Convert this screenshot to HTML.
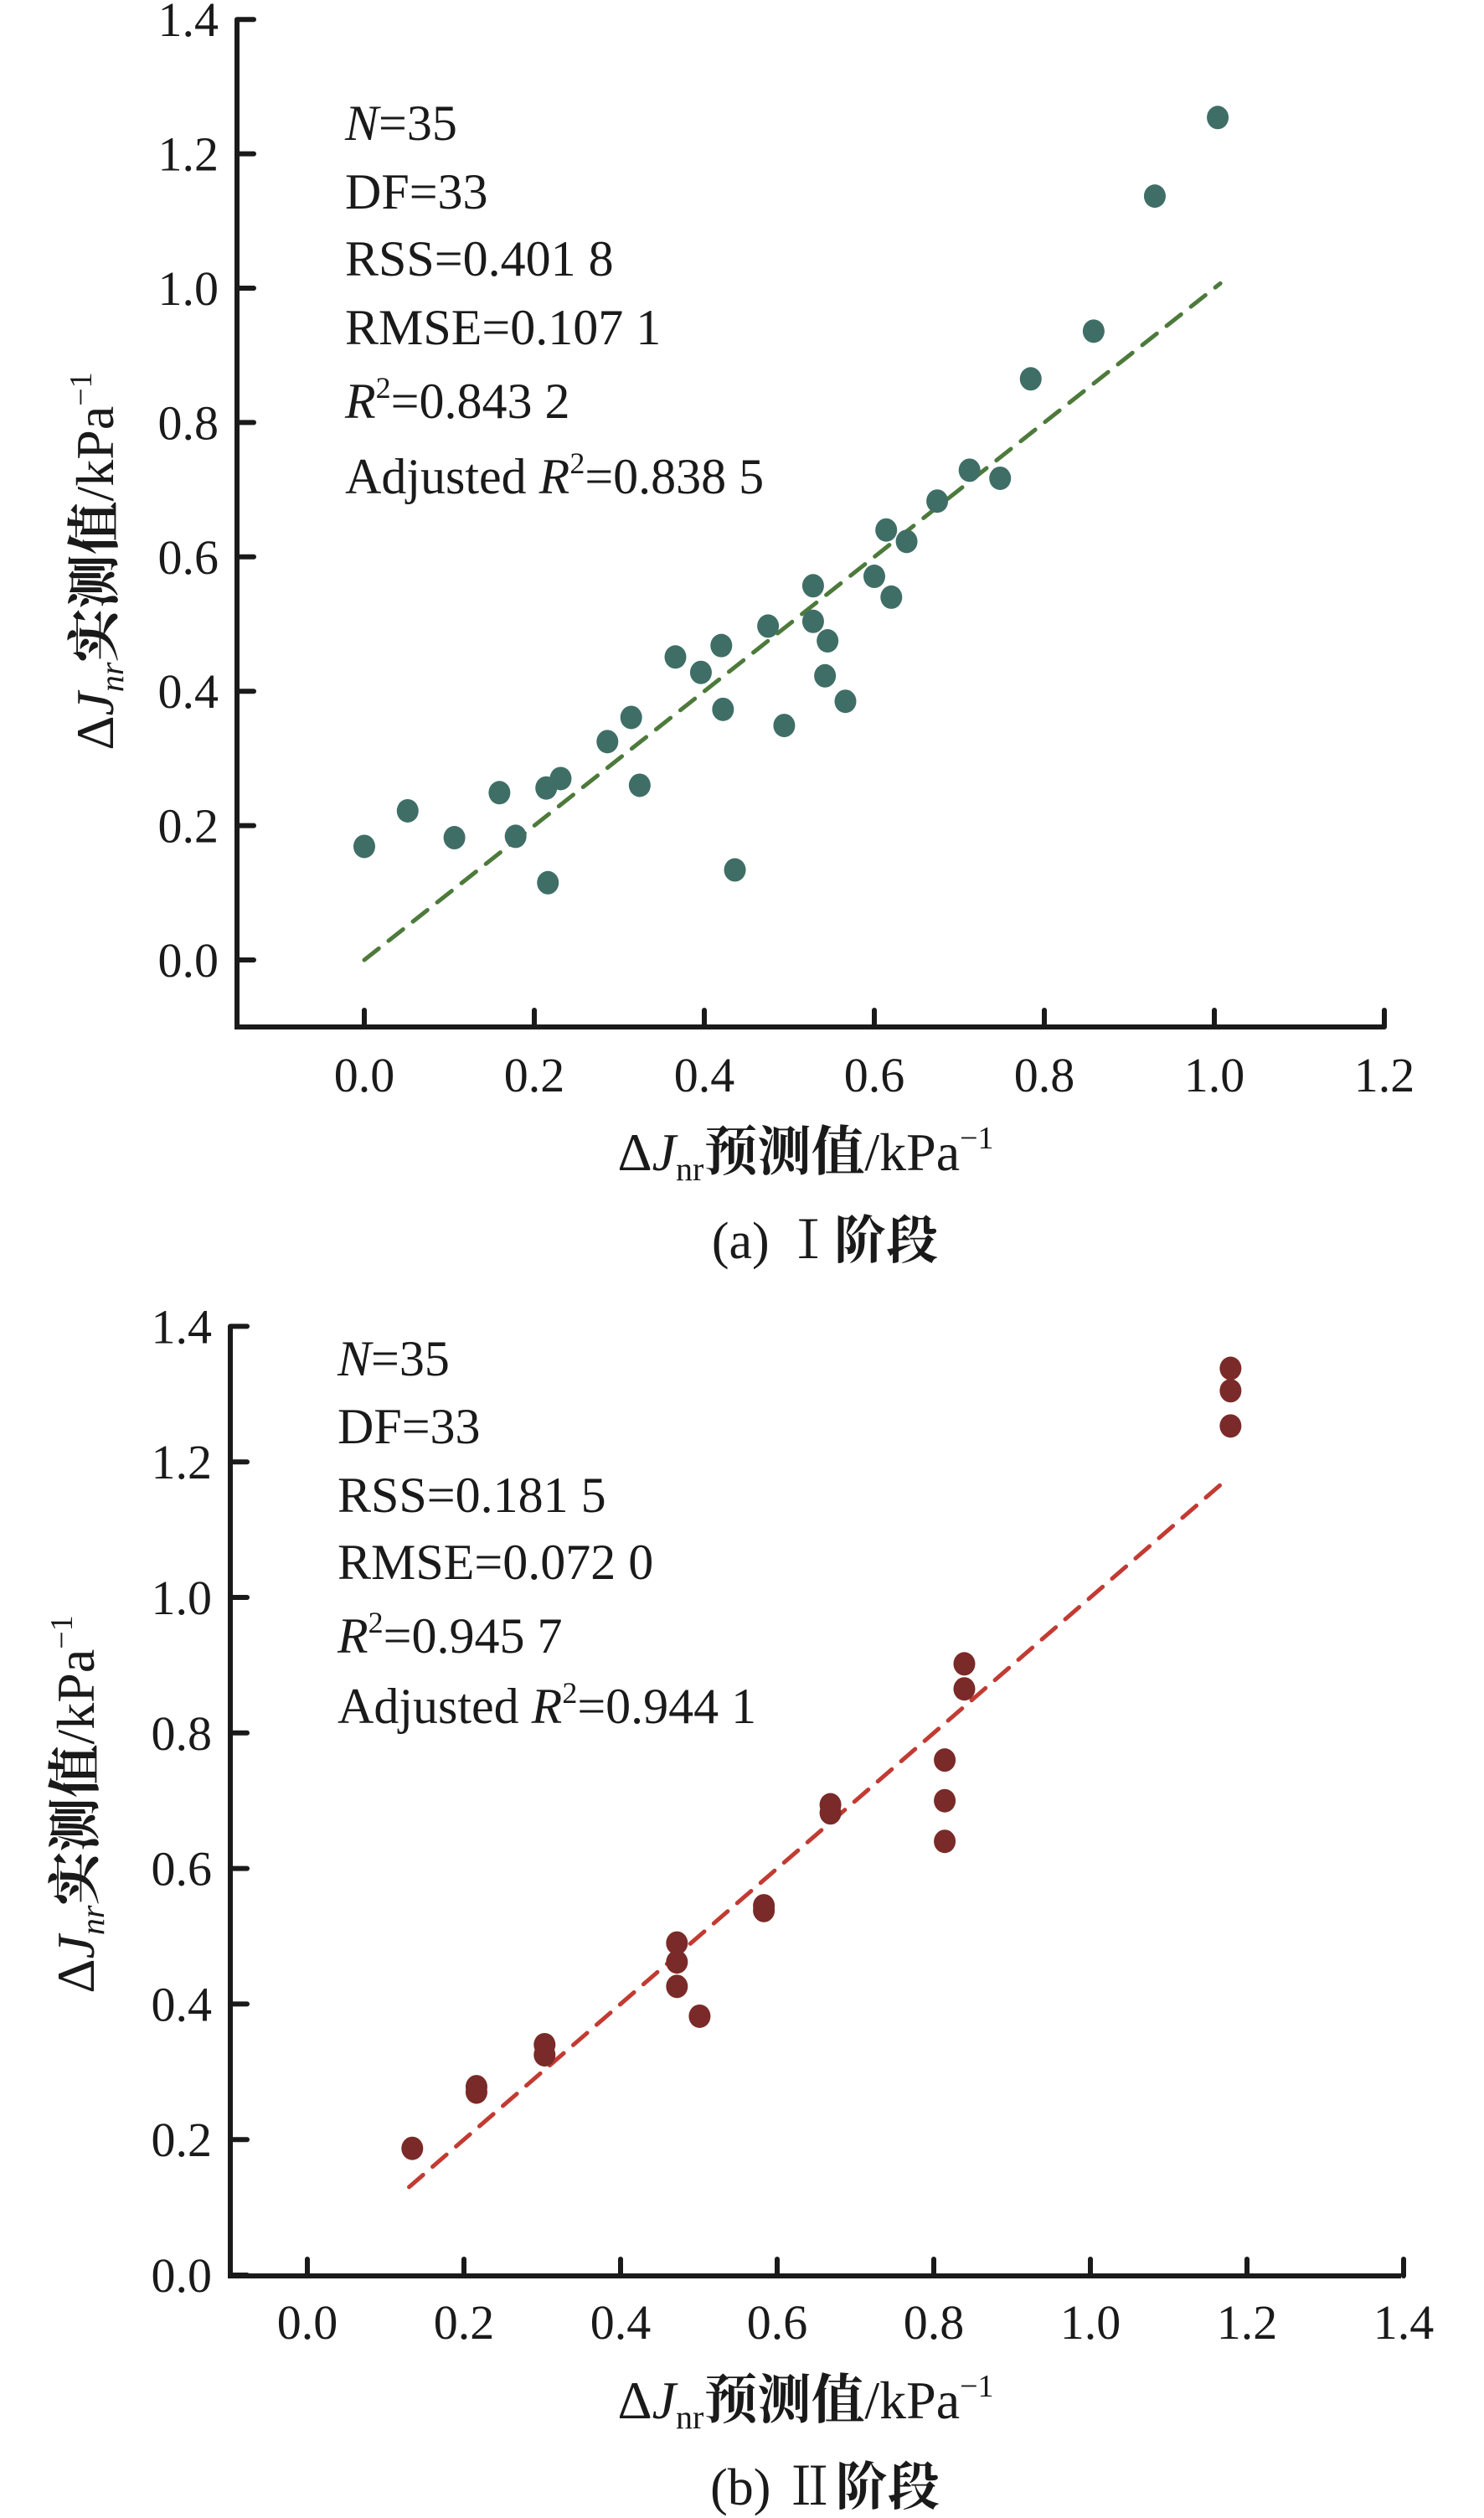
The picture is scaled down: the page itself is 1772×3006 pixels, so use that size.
<!DOCTYPE html>
<html><head><meta charset="utf-8"><style>
html,body{margin:0;padding:0;background:#fff;}
svg{display:block;}
text{font-family:"Liberation Serif","Noto Serif CJK SC",serif;fill:#1a1a1a;}
.cjk{font-family:"Noto Serif CJK SC",serif;font-weight:bold;}
</style></head><body>
<svg id="fig" width="1772" height="3006" viewBox="0 0 1772 3006" xmlns="http://www.w3.org/2000/svg"></svg>
<script>
// Panel (a) data
const aPred = [0,0.051,0.106,0.159,0.178,0.214,0.216,0.231,0.286,0.314,0.324,0.366,0.396,0.420,0.422,0.436,0.475,0.494,0.528,0.528,0.545,0.542,0.566,0.600,0.614,0.620,0.638,0.674,0.712,0.748,0.784,0.858,0.930,1.004];
const aMeas = [0.169,0.222,0.182,0.249,0.184,0.256,0.115,0.270,0.325,0.361,0.260,0.451,0.428,0.468,0.373,0.134,0.497,0.349,0.557,0.504,0.475,0.423,0.385,0.571,0.640,0.540,0.623,0.683,0.729,0.717,0.865,0.936,1.137,1.254];
const aFit = [0, 1.007];
const aXTicks = [0.0,0.2,0.4,0.6,0.8,1.0,1.2];
const aYTicks = [0.0,0.2,0.4,0.6,0.8,1.0,1.2,1.4];
const aStats = ["N=35","DF=33","RSS=0.401 8","RMSE=0.107 1","R2=0.843 2","Adjusted R2=0.838 5"];
// Panel (b) data
const bPred = [0.134,0.216,0.216,0.303,0.303,0.472,0.472,0.472,0.501,0.583,0.583,0.668,0.668,0.814,0.814,0.814,0.839,0.839,1.179,1.179,1.179];
const bMeas = [0.187,0.278,0.270,0.340,0.325,0.490,0.462,0.426,0.382,0.545,0.538,0.694,0.682,0.760,0.700,0.640,0.902,0.865,1.338,1.305,1.253];
const bFit = [0.13, 1.175];
const bXTicks = [0.0,0.2,0.4,0.6,0.8,1.0,1.2,1.4];
const bYTicks = [0.0,0.2,0.4,0.6,0.8,1.0,1.2,1.4];
const bStats = ["N=35","DF=33","RSS=0.181 5","RMSE=0.072 0","R2=0.945 7","Adjusted R2=0.944 1"];

const NS="http://www.w3.org/2000/svg";
const svg=document.getElementById('fig');
function mk(tag,attrs,parent){const e=document.createElementNS(NS,tag);for(const k in attrs)e.setAttribute(k,attrs[k]);(parent||svg).appendChild(e);return e;}

function panel(cfg){
  const g=mk('g',{});
  
  
  const sx=v=>cfg.x0+v*cfg.kx, sy=v=>cfg.y0-v*cfg.ky;
  const ax=mk('path',{d:`M${cfg.axL},${cfg.axTop} L${cfg.axL},${cfg.axY} L${cfg.axR},${cfg.axY}`,fill:'none',stroke:'#1a1a1a','stroke-width':6},g);
  
  
  cfg.yt.forEach(v=>{
    const t=mk('line',{x1:cfg.axL,y1:sy(v),x2:cfg.axL+20,y2:sy(v),stroke:'#1a1a1a','stroke-width':6,'stroke-linecap':'round'},g);
    
    
    const l=mk('text',{x:cfg.axL-22,y:sy(v)+20,'text-anchor':'end','font-size':58},g);
    l.textContent=v.toFixed(1);
    
    
  });
  cfg.xt.forEach(v=>{
    const t=mk('line',{x1:sx(v),y1:cfg.axY,x2:sx(v),y2:cfg.axY-20,stroke:'#1a1a1a','stroke-width':6,'stroke-linecap':'round'},g);
    
    
    const l=mk('text',{x:sx(v),y:cfg.xlY,'text-anchor':'middle','font-size':58},g);
    l.textContent=v.toFixed(1);
    
    
  });
  const fl=mk('line',{x1:sx(cfg.fit[0]),y1:sy(cfg.fit[0]),x2:sx(cfg.fit[1]),y2:sy(cfg.fit[1]),stroke:cfg.lineCol,'stroke-width':5,'stroke-dasharray':'22 15','stroke-linecap':'round'},g);
  
  
  cfg.px.forEach((v,i)=>{
    const c=mk('ellipse',{cx:sx(v),cy:sy(cfg.py[i]),rx:13,ry:14,fill:cfg.ptCol},g);
    
    
  });
  cfg.stats.forEach((s,i)=>{
    const t=mk('text',{x:cfg.stX,y:cfg.stY[i],'font-size':60},g);
    
    
    if(s.startsWith('N=')){t.innerHTML='<tspan font-style="italic">N</tspan>'+s.slice(1);}
    else if(s.startsWith('R2')){t.innerHTML='<tspan font-style="italic">R</tspan><tspan font-size="36" dy="-24">2</tspan><tspan dy="24">'+s.slice(2)+'</tspan>';}
    else if(s.startsWith('Adjusted')){t.innerHTML='Adjusted <tspan font-style="italic">R</tspan><tspan font-size="36" dy="-24">2</tspan><tspan dy="24">'+s.slice(11)+'</tspan>';}
    else t.textContent=s;
  });
  const xt=mk('text',{x:cfg.xtX,y:cfg.xtY,'text-anchor':'middle','font-size':64},g);
  xt.innerHTML='Δ<tspan font-style="italic">J</tspan><tspan font-size="40" dy="12">nr</tspan><tspan class="cjk" dy="-12">预测值</tspan>/kPa<tspan font-size="38" dy="-26">−1</tspan>';
  
  
  const yt=mk('text',{x:0,y:0,'text-anchor':'middle','font-size':64,transform:`translate(${cfg.ytX},${cfg.ytY}) rotate(-90)`},g);
  yt.innerHTML='Δ<tspan font-style="italic">J</tspan><tspan font-size="40" font-style="italic" dy="12">nr</tspan><tspan class="cjk" dy="-12">实测值</tspan>/kPa<tspan font-size="38" dy="-26">−1</tspan>';
  
  
  const cap=mk('text',{x:cfg.capX,y:cfg.capY,'text-anchor':'middle','font-size':62},g);
  cap.innerHTML=cfg.cap[0]+'<tspan class="cjk">'+cfg.cap[1]+'</tspan>';
  
  
}

panel({name:'panel-a',x0:435,kx:1015,y0:1146,ky:802,axL:283,axR:1652,axTop:23,axY:1226,xlY:1303,
  xt:aXTicks,yt:aYTicks,px:aPred,py:aMeas,fit:aFit,ptCol:'#3f6e67',lineCol:'#4d7a3b',
  stats:aStats,stX:412,stY:[167,249,329,411,499,589],xtX:962,xtY:1397,ytX:135,ytY:670,capX:985,capY:1502,cap:['(a) Ⅰ','阶段']});
panel({name:'panel-b',x0:367,kx:935,y0:2716,ky:809,axL:275,axR:1673,axTop:1583,axY:2717,xlY:2792,
  xt:bXTicks,yt:bYTicks,px:bPred,py:bMeas,fit:bFit,ptCol:'#7a2a28',lineCol:'#c23b32',
  stats:bStats,stX:403,stY:[1642,1723,1805,1885,1973,2057],xtX:962,xtY:2887,ytX:112,ytY:2154,capX:985,capY:2990,cap:['(b) Ⅱ','阶段']});
</script>
</body></html>
